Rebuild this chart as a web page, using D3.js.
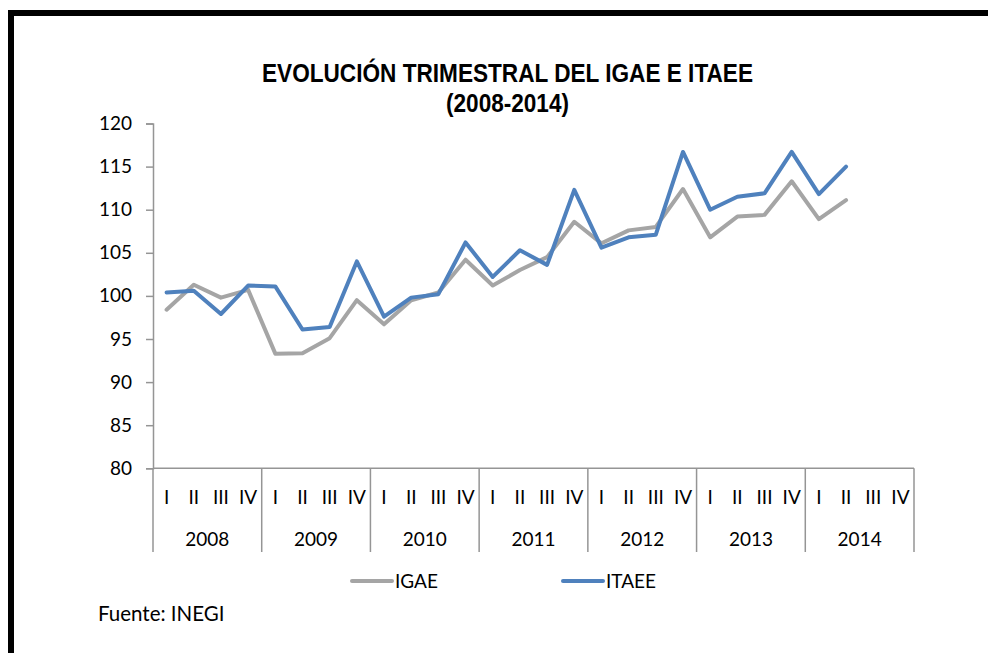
<!DOCTYPE html>
<html>
<head>
<meta charset="utf-8">
<script src="https://cdn.jsdelivr.net/npm/d3@7"></script>
<style>
  html, body { margin: 0; padding: 0; background: #fff; }
  svg { display: block; }
  .tick text { font-family: Lato, "Open Sans", sans-serif; }
</style>
</head>
<body>
<div id="chart"></div>
<script>
// datos
var years = ['2008', '2009', '2010', '2011', '2012', '2013', '2014'],
	quarters = ['I', 'II', 'III', 'IV'],
	igae = [98.4, 101.3, 99.8, 100.7, 93.3, 93.35, 95.1, 99.5,
		96.7, 99.5, 100.4, 104.2, 101.2, 103.0, 104.5, 108.6,
		106.1, 107.6, 108.0, 112.4, 106.8, 109.2, 109.4, 113.3,
		108.9, 111.1],
	itaee = [100.4, 100.6, 97.9, 101.2, 101.1, 96.1, 96.4, 104.0,
		97.6, 99.8, 100.2, 106.2, 102.2, 105.3, 103.6, 112.3,
		105.6, 106.8, 107.1, 116.7, 110.0, 111.5, 111.9, 116.7,
		111.8, 115.0],
	yTicks = [80, 85, 90, 95, 100, 105, 110, 115, 120]

var W = 988, H = 653,
	axisColor = '#959595',
	labelFont = 'Lato, "Open Sans", sans-serif',
	labelSize = 19,
	slots = []

years.forEach(function(yr) {
	quarters.forEach(function(q) { slots.push(yr + '-' + q) })
})

var svg = d3.select('#chart').append('svg')
	.attr('width', W)
	.attr('height', H)

// marco negro (arriba e izquierda)
svg.append('rect').attr('x', 8).attr('y', 10).attr('width', W - 8).attr('height', 6).attr('fill', '#000')
svg.append('rect').attr('x', 8).attr('y', 10).attr('width', 6).attr('height', H - 10).attr('fill', '#000')

var x = d3.scaleBand().domain(slots).range([153, 914]).padding(0),
	xYear = d3.scaleBand().domain(years).range([153, 914]).padding(0),
	y = d3.scaleLinear().domain([80, 120]).range([468.3, 123.5])

// titulo
var title = svg.append('g')
	.attr('font-family', '"Liberation Sans Narrow", "Arial Narrow", "Liberation Sans", Arial, sans-serif')
	.attr('font-weight', 'bold')
	.attr('font-size', 26)
	.attr('text-anchor', 'middle')
	.attr('fill', '#000')

title.append('text')
	.attr('x', 507.5).attr('y', 81.5)
	.attr('textLength', 491).attr('lengthAdjust', 'spacingAndGlyphs')
	.text('EVOLUCIÓN TRIMESTRAL DEL IGAE E ITAEE')

title.append('text')
	.attr('x', 507.5).attr('y', 112)
	.attr('textLength', 123).attr('lengthAdjust', 'spacingAndGlyphs')
	.text('(2008-2014)')

// eje y
var yAxis = svg.append('g')
	.attr('transform', 'translate(153,0)')
	.call(d3.axisLeft(y).tickValues(yTicks).tickSize(7).tickPadding(14))

yAxis.select('.domain').attr('stroke', axisColor).attr('stroke-width', 1.5)
yAxis.selectAll('.tick line').attr('stroke', axisColor).attr('stroke-width', 1.5)
yAxis.selectAll('.tick text')
	.attr('font-size', labelSize)
	.attr('fill', '#000')

// eje x: trimestres
var xAxis = svg.append('g')
	.attr('transform', 'translate(0,' + y(80) + ')')
	.call(d3.axisBottom(x).tickSize(0).tickPadding(0).tickFormat(function(d) { return d.split('-')[1] }))

xAxis.select('.domain').remove()
xAxis.selectAll('.tick text')
	.attr('font-size', labelSize)
	.attr('fill', '#000')
	.attr('dy', null)
	.attr('y', 35.5)

svg.append('line')
	.attr('x1', 153).attr('x2', 914)
	.attr('y1', y(80)).attr('y2', y(80))
	.attr('stroke', axisColor).attr('stroke-width', 1.5)

// separadores de anio
svg.selectAll('.year-sep')
	.data(years.concat(['end']))
	.enter().append('line')
	.attr('class', 'year-sep')
	.attr('x1', function(d) { return d === 'end' ? 914 : xYear(d) })
	.attr('x2', function(d) { return d === 'end' ? 914 : xYear(d) })
	.attr('y1', y(80))
	.attr('y2', 552)
	.attr('stroke', axisColor)
	.attr('stroke-width', 1.5)

svg.selectAll('.year-label')
	.data(years)
	.enter().append('text')
	.attr('class', 'year-label')
	.attr('x', function(d) { return xYear(d) + xYear.bandwidth() / 2 })
	.attr('y', 545.5)
	.attr('text-anchor', 'middle')
	.attr('font-family', labelFont)
	.attr('font-size', labelSize)
	.attr('fill', '#000')
	.text(function(d) { return d })

// lineas
var series = [
	{name: 'IGAE', values: igae, color: '#a5a5a5', lx: 352},
	{name: 'ITAEE', values: itaee, color: '#4f81bd', lx: 563}
]

var line = d3.line()
	.x(function(d, i) { return x(slots[i]) + x.bandwidth() / 2 })
	.y(function(d) { return y(d) })

series.forEach(function(s) {
	svg.append('path')
		.datum(s.values)
		.attr('d', line)
		.attr('fill', 'none')
		.attr('stroke', s.color)
		.attr('stroke-width', 4)
		.attr('stroke-linejoin', 'round')
		.attr('stroke-linecap', 'round')
})

// leyenda
series.forEach(function(s) {
	svg.append('line')
		.attr('x1', s.lx).attr('x2', s.lx + 40)
		.attr('y1', 581).attr('y2', 581)
		.attr('stroke', s.color)
		.attr('stroke-width', 4)
		.attr('stroke-linecap', 'round')
	svg.append('text')
		.attr('x', s.lx + 43).attr('y', 588)
		.attr('font-family', labelFont)
		.attr('font-size', labelSize)
		.attr('fill', '#000')
		.text(s.name)
})

svg.append('text')
	.attr('x', 98).attr('y', 621)
	.attr('font-family', labelFont)
	.attr('font-size', 20.5)
	.attr('fill', '#000')
	.text('Fuente: INEGI')
</script>
</body>
</html>
